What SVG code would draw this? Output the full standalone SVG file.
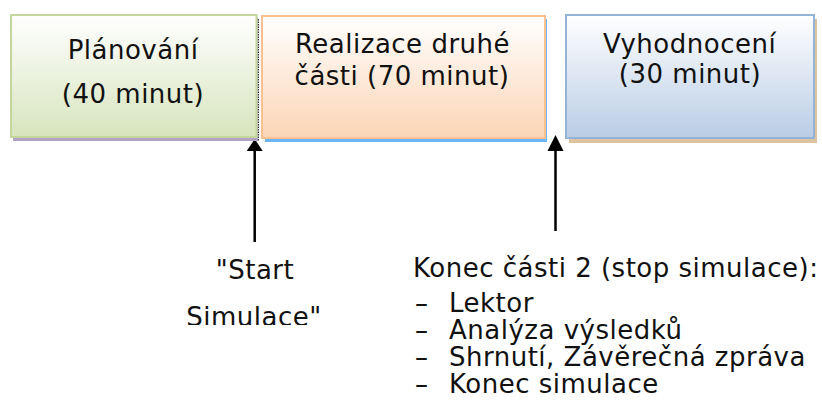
<svg xmlns="http://www.w3.org/2000/svg" width="822" height="412" viewBox="0 0 822 412">
<style>
text{font-family:"DejaVu Sans","Verdana",sans-serif;font-size:26px;fill:#111;letter-spacing:0.5px}
.c{text-anchor:middle}
.ln{stroke:#000;stroke-width:2.5;fill:none}
</style>
<defs>
<linearGradient id="gG" x1="0" y1="0" x2="0" y2="1"><stop offset="0" stop-color="#ffffff"/><stop offset="1" stop-color="#d7e4bd"/></linearGradient>
<linearGradient id="gO" x1="0" y1="0" x2="0" y2="1"><stop offset="0" stop-color="#ffffff"/><stop offset="1" stop-color="#fbd5b5"/></linearGradient>
<linearGradient id="gB" x1="0" y1="0" x2="0" y2="1"><stop offset="0" stop-color="#ffffff"/><stop offset="1" stop-color="#b9cde5"/></linearGradient>
<clipPath id="clipS"><rect x="150" y="240" width="220" height="85"/></clipPath>
</defs>
<g id="connectors">
<line class="ln" x1="254.7" y1="242" x2="254.7" y2="150"/>
<polygon points="254.7,139 246.7,151 262.7,151" fill="#000"/>
<line class="ln" x1="555.5" y1="231" x2="555.5" y2="148"/>
<polygon points="555.5,135 547.5,151 563.5,151" fill="#000"/>
</g>
<g id="node-planovani">
<rect x="13" y="17" width="245" height="124" fill="#b3a2c7"/>
<line x1="258.5" y1="19" x2="258.5" y2="141" stroke="#333" stroke-width="1" stroke-dasharray="1.5,1"/>
<rect x="11" y="15" width="245.5" height="122" fill="url(#gG)" stroke="#c3d69b" stroke-width="2"/>
<text class="c" x="133" y="59">Plánování</text>
<text class="c" x="133" y="103">(40 minut)</text>
</g>
<g id="node-realizace">
<rect x="265" y="19" width="282" height="123" fill="#6cb4f2"/>
<rect x="262" y="16" width="283" height="122" fill="url(#gO)" stroke="#fac090" stroke-width="2"/>
<text class="c" x="402.5" y="53">Realizace druhé</text>
<text class="c" x="402" y="85">části (70 minut)</text>
</g>
<g id="node-vyhodnoceni">
<rect x="569" y="19" width="248" height="124" fill="#dcc4a0"/>
<rect x="566" y="15" width="248" height="123" fill="url(#gB)" stroke="#95b3d7" stroke-width="2"/>
<text class="c" x="689.5" y="53">Vyhodnocení</text>
<text class="c" x="690" y="83">(30 minut)</text>
</g>
<g id="label-start" clip-path="url(#clipS)">
<text class="c" x="255" y="279">"Start</text>
<text class="c" x="254" y="326">Simulace"</text>
</g>
<g id="label-konec">
<text x="413" y="277">Konec části 2 (stop simulace):</text>
<text y="312"><tspan x="415">–</tspan><tspan x="449">Lektor</tspan></text>
<text y="339"><tspan x="415">–</tspan><tspan x="449">Analýza výsledků</tspan></text>
<text y="366"><tspan x="415">–</tspan><tspan x="449">Shrnutí, Závěrečná zpráva</tspan></text>
<text y="393"><tspan x="415">–</tspan><tspan x="449">Konec simulace</tspan></text>
</g>
</svg>
